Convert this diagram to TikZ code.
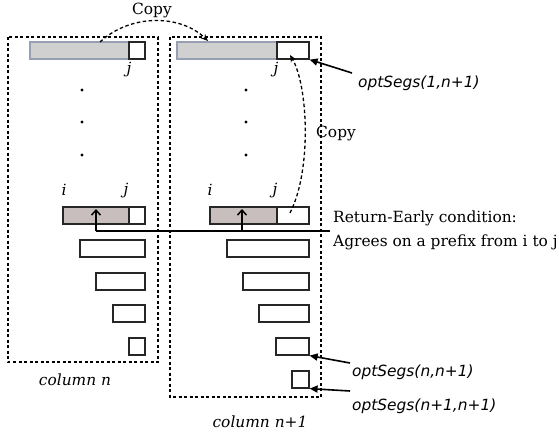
\documentclass[tikz,border=0pt]{standalone}
\usepackage{fontspec}
\setmainfont{DejaVu Serif}
\newfontfamily\labfont{DejaVu Sans}
\usetikzlibrary{arrows.meta}
\definecolor{topgray}{RGB}{208,208,208}
\definecolor{topedge}{RGB}{150,160,178}
\definecolor{midgray}{RGB}{200,190,190}
\begin{document}
\begin{tikzpicture}[x=1pt,y=-1pt,
  cell/.style={draw=black!85, fill=white, line width=1.6pt, inner sep=0pt, minimum height=17pt, anchor=north west},
  topcell/.style={cell, draw=topedge, fill=topgray},
  midcell/.style={cell, fill=midgray},
  dotbox/.style={line width=1.5pt, dash pattern=on 3pt off 2.5pt},
  lab/.style={font=\fontsize{15.4}{18}\selectfont, inner sep=0pt},
  ij/.style={font=\fontsize{15.4}{18}\selectfont\itshape, inner sep=0pt},
  seg/.style={font=\labfont\fontsize{15.4}{18}\selectfont\itshape, inner sep=0pt, anchor=west},
  dot/.style={circle, fill=black, inner sep=0pt, minimum size=3.2pt},
  copyarrow/.style={line width=1.3pt, dash pattern=on 3.5pt off 2.5pt, -{Stealth[length=7pt,width=6pt]}},
  ptr/.style={line width=1.6pt, -{Triangle[length=8pt,width=7pt]}},
  up/.style={line width=1.5pt, -{Straight Barb[length=5pt,width=9pt]}}
]
\useasboundingbox (0,0) rectangle (559,434);

% column frames
\draw[dotbox] (8,37) rectangle (158,362);
\draw[dotbox] (170,37) rectangle (321,397);

% top bars
\node[topcell, minimum width=99pt] (Lg1) at (29,41) {};
\node[cell, minimum width=16pt] (Lw1) at (128,41) {};
\node[topcell, minimum width=100pt] (Rg1) at (176,41) {};
\node[cell, minimum width=32pt] (Rw1) at (276,41) {};
\node[ij] (Lj1) at (129,70) {j};
\node[ij] (Rj1) at (276,70) {j};

% vertical dots
\node[dot] (Ld1) at (82,90) {};
\node[dot] (Ld2) at (82,122) {};
\node[dot] (Ld3) at (82,155) {};
\node[dot] (Rd1) at (246,90) {};
\node[dot] (Rd2) at (246,122) {};
\node[dot] (Rd3) at (246,155) {};

% i..j row
\node[ij] (Li) at (64,190) {i};
\node[ij] (Lj2) at (126,191) {j};
\node[ij] (Ri) at (210,190) {i};
\node[ij] (Rj2) at (275,191) {j};
\node[midcell, minimum width=66pt] (Lm) at (62,206) {};
\node[cell, minimum width=16pt] (Lmw) at (128,206) {};
\node[midcell, minimum width=67pt] (Rm) at (209,206) {};
\node[cell, minimum width=32pt] (Rmw) at (276,206) {};

% left lower bars
\node[cell, minimum width=65pt] (L3) at (79,239) {};
\node[cell, minimum width=49pt] (L4) at (95,272) {};
\node[cell, minimum width=32pt] (L5) at (112,304) {};
\node[cell, minimum width=16pt] (L6) at (128,337) {};

% right lower bars
\node[cell, minimum width=82pt] (R3) at (226,239) {};
\node[cell, minimum width=66pt] (R4) at (242,272) {};
\node[cell, minimum width=50pt] (R5) at (258,304) {};
\node[cell, minimum width=33pt] (R6) at (275,337) {};
\node[cell, minimum width=17pt] (R7) at (291,370) {};

% return-early line
\coordinate (re) at (330,231);
\coordinate (reL) at (96,231);
\coordinate (reR) at (242,231);
\draw[line width=1.5pt] (reL) -- (re);
\draw[up] (reL) -- (96,209);
\draw[up] (reR) -- (242,209);
\node[lab, anchor=west] (ret1) at (333,218) {Return-Early condition:};
\node[lab, anchor=west] (ret2) at (333,242) {Agrees on a prefix from i to j};

% copy arrows
\coordinate (c1s) at (100,42);
\coordinate (c1e) at (208,41);
\draw[copyarrow] (c1s) .. controls (130,14) and (180,14) .. (c1e);
\node[lab] (copy1) at (152,10) {Copy};
\coordinate (c2s) at (290,213);
\coordinate (c2e) at (290,55);
\draw[copyarrow] (c2s) .. controls (312,170) and (308,85) .. (c2e);
\node[lab] (copy2) at (336,133) {Copy};

% optSegs pointers
\coordinate (p1) at (352,73);
\draw[ptr] (p1) -- (Rw1.south east);
\node[seg] (o1) at (358,83) {optSegs(1,n+1)};
\coordinate (p2) at (350,363);
\draw[ptr] (p2) -- (R6.south east);
\node[seg] (o2) at (352,372) {optSegs(n,n+1)};
\coordinate (p3) at (350,391);
\draw[ptr] (p3) -- (R7.south east);
\node[seg] (o3) at (352,406) {optSegs(n+1,n+1)};

% column labels
\node[ij] (cn) at (75,380) {column n};
\node[ij] (cn1) at (260,422) {column n+1};
\end{tikzpicture}
\end{document}
